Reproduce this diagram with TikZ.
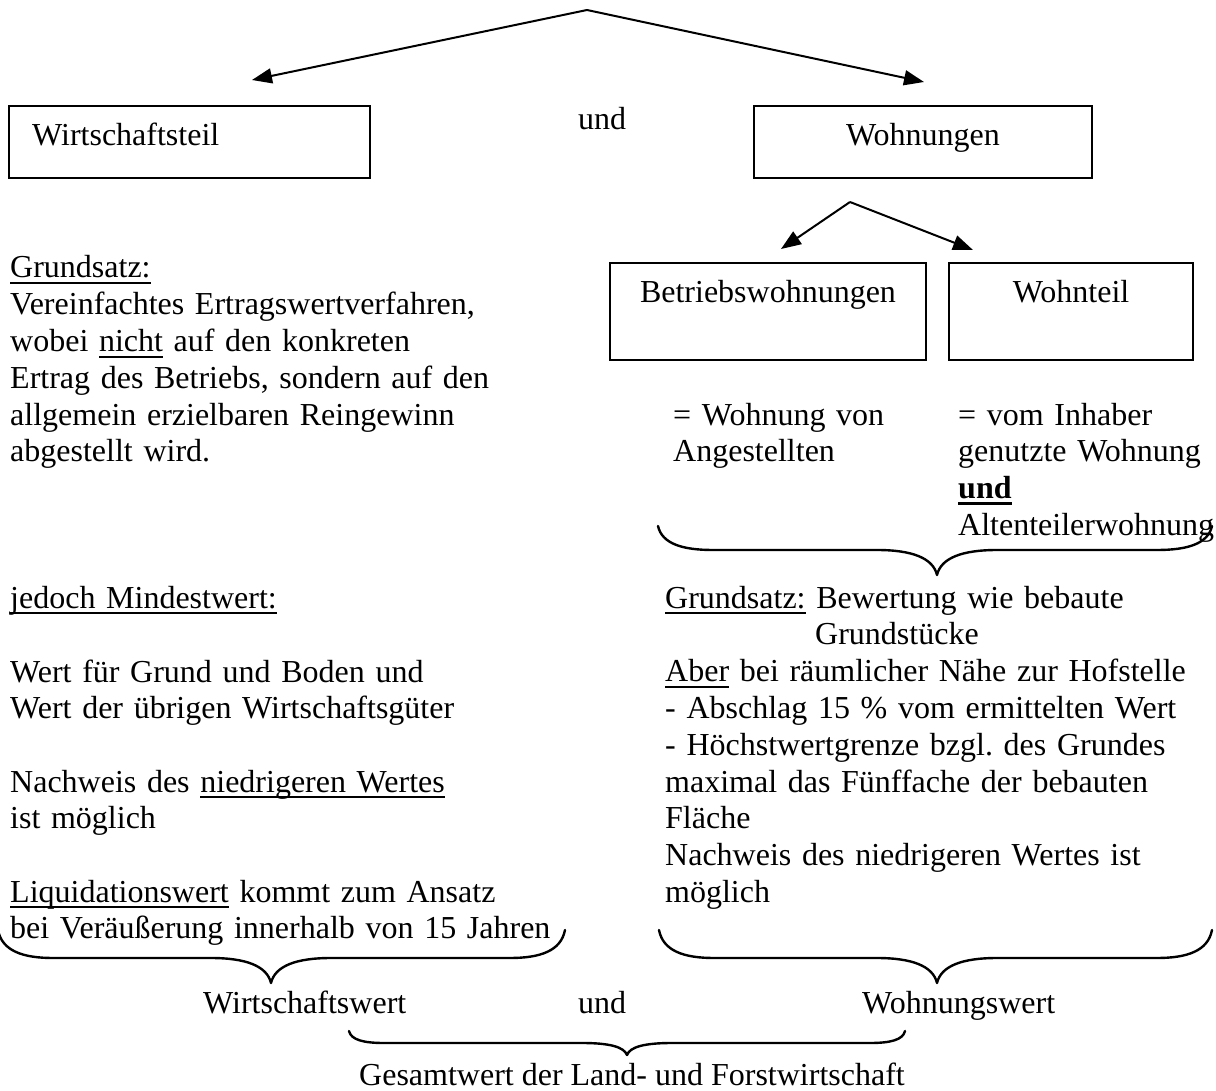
\documentclass[tikz,border=0pt]{standalone}
\usepackage{fontspec}
\setmainfont[Ligatures=NoCommon]{Liberation Serif}
\usetikzlibrary{arrows.meta}
\frenchspacing
% underline at a fixed depth, crossing descenders
\newcommand\ulx[1]{\leavevmode\setbox0\hbox{#1}\rlap{\rule[-6pt]{\wd0}{2pt}}\box0\relax}
\newcommand\ulb[1]{\leavevmode\setbox0\hbox{\bfseries #1}\rlap{\rule[-6.8pt]{\wd0}{3.4pt}}\box0\relax}
\begin{document}
\begin{tikzpicture}[x=1pt,y=-1pt,
  every node/.style={font=\fontsize{32}{36.8}\selectfont, inner sep=0pt},
  txt/.style={anchor=base west},
  ctxt/.style={anchor=base},
  block/.style={anchor=base west, text width=600pt, align=left},
  box/.style={draw, line width=2pt, rectangle},
  arr/.style={line width=2pt, -{Triangle[length=20pt,width=15pt]}},
  brace/.style={line width=2.4pt, line cap=round, line join=round}]
\useasboundingbox (0,0) rectangle (1216,1091);

% --- first split ---
\coordinate (apex) at (587,10);
\coordinate (tipL) at (252,80);
\coordinate (tipR) at (924,82);
\draw[arr] (apex) -- (tipL);
\draw[arr] (apex) -- (tipR);

\node[box, minimum width=361pt, minimum height=72pt] (wt) at (189.5,142) {};
\node[txt] (wtl) at (32,146) {Wirtschaftsteil};
\node[txt] (und1) at (578,130) {und};
\node[box, minimum width=338pt, minimum height=72pt] (wo) at (923,142) {};
\node[ctxt] (wol) at (923,146) {Wohnungen};

% --- second split ---
\coordinate (apex2) at (850,202);
\coordinate (tipL2) at (781,249);
\coordinate (tipR2) at (973,250);
\draw[arr] (apex2) -- (tipL2);
\draw[arr] (apex2) -- (tipR2);

\node[box, minimum width=316pt, minimum height=97pt] (bw) at (768,311.5) {};
\node[ctxt] (bwl) at (768,303) {Betriebswohnungen};
\node[box, minimum width=244pt, minimum height=97pt] (wh) at (1071,311.5) {};
\node[ctxt] (whl) at (1071,303) {Wohnteil};

% --- left column ---
\node[block] (gsl) at (10,278) {\ulx{Grundsatz:}\\Vereinfachtes Ertragswertverfahren,\\wobei \ulx{nicht} auf den konkreten\\Ertrag des Betriebs, sondern auf den\\allgemein erzielbaren Reingewinn\\abgestellt wird.};
\node[block] (jm) at (10,608) {\ulx{jedoch Mindestwert:}};
\node[block] (wfg) at (10,682) {Wert für Grund und Boden und\\Wert der übrigen Wirtschaftsgüter};
\node[block] (nwl) at (10,792) {Nachweis des \ulx{niedrigeren Wertes}\\ist möglich};
\node[block] (lqw) at (10,902) {\ulx{Liquidationswert} kommt zum Ansatz\\bei Veräußerung innerhalb von 15 Jahren};

% --- right column ---
\node[block] (bwt) at (673,425) {= Wohnung von\\Angestellten};
\node[block] (wht) at (958,425) {= vom Inhaber\\genutzte Wohnung\\\ulb{und}\\Altenteilerwohnung};
\node[block] (gsr) at (665,608) {\ulx{Grundsatz:} Bewertung wie bebaute\\\hspace*{150pt}Grundstücke\\\ulx{Aber} bei räumlicher Nähe zur Hofstelle\\- Abschlag 15 \% vom ermittelten Wert\\- Höchstwertgrenze bzgl. des Grundes\\maximal das Fünffache der bebauten\\Fläche\\Nachweis des niedrigeren Wertes ist\\möglich};

% --- braces ---
\draw[brace] (658,526) .. controls (662,544) and (683,550) .. (713,550) -- (877,550)
  .. controls (912,550) and (933,558) .. (937,575)
  .. controls (941,558) and (962,550) .. (997,550) -- (1157,550)
  .. controls (1187,550) and (1208,544) .. (1212,526);
\draw[brace] (-2,930) .. controls (2,951) and (23,958) .. (53,958) -- (211,958)
  .. controls (246,958) and (267,966) .. (271,983)
  .. controls (275,966) and (296,958) .. (331,958) -- (510,958)
  .. controls (540,958) and (561,951) .. (565,930);
\draw[brace] (659,930) .. controls (663,951) and (684,958) .. (714,958) -- (877,958)
  .. controls (912,958) and (933,966) .. (937,983)
  .. controls (941,966) and (962,958) .. (997,958) -- (1157,958)
  .. controls (1187,958) and (1208,951) .. (1212,930);
\draw[brace] (349,1031) .. controls (351,1040) and (364,1043) .. (384,1043) -- (582,1043)
  .. controls (610,1043) and (624,1047) .. (627,1055)
  .. controls (630,1047) and (644,1043) .. (672,1043) -- (870,1043)
  .. controls (890,1043) and (903,1040) .. (905,1031);

% --- results ---
\node[txt] (ww) at (203,1013) {Wirtschaftswert};
\node[txt] (und2) at (578,1013) {und};
\node[txt] (wow) at (862,1013) {Wohnungswert};
\node[ctxt] (gw) at (632,1085) {Gesamtwert der Land- und Forstwirtschaft};
\end{tikzpicture}
\end{document}
